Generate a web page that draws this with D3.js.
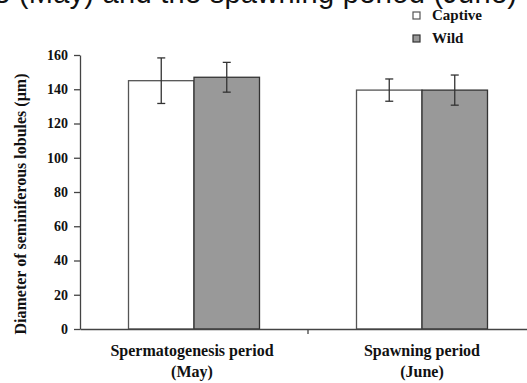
<!DOCTYPE html>
<html>
<head>
<meta charset="utf-8">
<script src="https://cdn.jsdelivr.net/npm/d3@7"></script>
<style>
  body { margin: 0; background: #fff; }
  text { font-family: "Liberation Serif", "Times New Roman", serif; font-weight: bold; }
</style>
</head>
<body>
<svg id="chart"></svg>
<script>
const svgWidth = 527, svgHeight = 383;

// data
const periods = ["Spermatogenesis period|(May)", "Spawning period|(June)"];
const groups = ["Captive", "Wild"];
const captiveMean = [145, 139.5];
const captiveErr = [13.3, 6.5];
const wildMean = [147, 139.5];
const wildErr = [8.7, 8.8];
const yTicks = [0, 20, 40, 60, 80, 100, 120, 140, 160];

const colors = { Captive: "#ffffff", Wild: "#999999" };
const strokes = { Captive: "#555555", Wild: "#333333" };

const rows = [];
periods.forEach((p, i) => {
  rows.push({ period: p, group: "Captive", mean: captiveMean[i], err: captiveErr[i] });
  rows.push({ period: p, group: "Wild", mean: wildMean[i], err: wildErr[i] });
});

const svg = d3.select("#chart")
    .attr("width", svgWidth)
    .attr("height", svgHeight);

// cropped caption line at the very top (only its bottom edge shows)
svg.append("text")
    .text("e (May) and the spawning period (June)")
    .attr("x", -6)
    .attr("y", 3)
    .attr("textLength", 523)
    .attr("lengthAdjust", "spacing")
    .style("font-family", "'Liberation Sans', Arial, sans-serif")
    .style("font-weight", "normal")
    .style("font-size", "29px")
    .attr("fill", "#111");

const x0 = d3.scaleBand()
    .domain(periods)
    .range([80, 536]);

const x1 = d3.scaleBand()
    .domain(groups)
    .range([0, 131]);

const y = d3.scaleLinear()
    .domain([0, 160])
    .range([329, 55]);

const groupOffset = (x0.bandwidth() - 131) / 2;

// bars
svg.selectAll(".bar")
    .data(rows)
    .enter()
    .append("rect")
    .attr("class", "bar")
    .attr("x", d => x0(d.period) + groupOffset + x1(d.group))
    .attr("y", d => y(d.mean))
    .attr("width", x1.bandwidth())
    .attr("height", d => y(0) - y(d.mean))
    .attr("fill", d => colors[d.group])
    .attr("stroke", d => strokes[d.group])
    .attr("stroke-width", 1.3);

// error bars
const errG = svg.selectAll(".err")
    .data(rows)
    .enter()
    .append("g")
    .attr("class", "err")
    .attr("transform", d => `translate(${x0(d.period) + groupOffset + x1(d.group) + x1.bandwidth() / 2},0)`)
    .attr("stroke", "#333")
    .attr("stroke-width", 1.3);

errG.append("line")
    .attr("x1", 0).attr("x2", 0)
    .attr("y1", d => y(d.mean + d.err))
    .attr("y2", d => y(d.mean - d.err));
errG.append("line")
    .attr("x1", -4).attr("x2", 4)
    .attr("y1", d => y(d.mean + d.err))
    .attr("y2", d => y(d.mean + d.err));
errG.append("line")
    .attr("x1", -4).attr("x2", 4)
    .attr("y1", d => y(d.mean - d.err))
    .attr("y2", d => y(d.mean - d.err));

// y axis
const yAxis = svg.append("g")
    .attr("transform", "translate(80,0)")
    .call(d3.axisLeft(y).tickValues(yTicks).tickSize(6).tickSizeOuter(0));
yAxis.select(".domain").attr("stroke", "#444").attr("stroke-width", 1.3);
yAxis.selectAll(".tick line").attr("stroke", "#444").attr("stroke-width", 1.3);
yAxis.selectAll(".tick text")
    .attr("x", -12)
    .attr("fill", "#111")
    .style("font-family", "'Liberation Serif', serif")
    .style("font-size", "14px");

// x axis
const xAxis = svg.append("g")
    .attr("transform", "translate(0,329)")
    .call(d3.axisBottom(x0).tickSize(0).tickSizeOuter(0));
xAxis.select(".domain").attr("stroke", "#444").attr("stroke-width", 1.3);
xAxis.selectAll(".tick text").remove();

// separator tick between the two periods
svg.append("line")
    .attr("x1", x0(periods[1])).attr("x2", x0(periods[1]))
    .attr("y1", 329).attr("y2", 334)
    .attr("stroke", "#444")
    .attr("stroke-width", 1.3);

// x category labels on two lines
const xLab = svg.selectAll(".xlab")
    .data(periods)
    .enter()
    .append("text")
    .attr("class", "xlab")
    .attr("text-anchor", "middle")
    .attr("fill", "#111")
    .style("font-size", "16px");
xLab.append("tspan")
    .attr("x", d => x0(d) + x0.bandwidth() / 2 - (d === periods[1] ? 0 : 2))
    .attr("y", 356)
    .text(d => d.split("|")[0]);
xLab.append("tspan")
    .attr("x", d => x0(d) + x0.bandwidth() / 2 - (d === periods[1] ? 0 : 2))
    .attr("y", 377)
    .text(d => d.split("|")[1]);

// y axis title
svg.append("text")
    .text("Diameter of seminiferous lobules (µm)")
    .attr("transform", "translate(26,204) rotate(-90)")
    .attr("text-anchor", "middle")
    .attr("fill", "#111")
    .style("font-size", "16px");

// legend
const legend = svg.selectAll(".leg")
    .data(groups)
    .enter()
    .append("g")
    .attr("class", "leg")
    .attr("transform", (d, i) => `translate(413,${12 + i * 23})`);
legend.append("rect")
    .attr("width", 7)
    .attr("height", 7)
    .attr("fill", d => colors[d])
    .attr("stroke", d => strokes[d])
    .attr("stroke-width", 1.2);
legend.append("text")
    .text(d => d)
    .attr("x", 19)
    .attr("y", 8)
    .attr("fill", "#111")
    .style("font-size", "15px");
</script>
</body>
</html>
